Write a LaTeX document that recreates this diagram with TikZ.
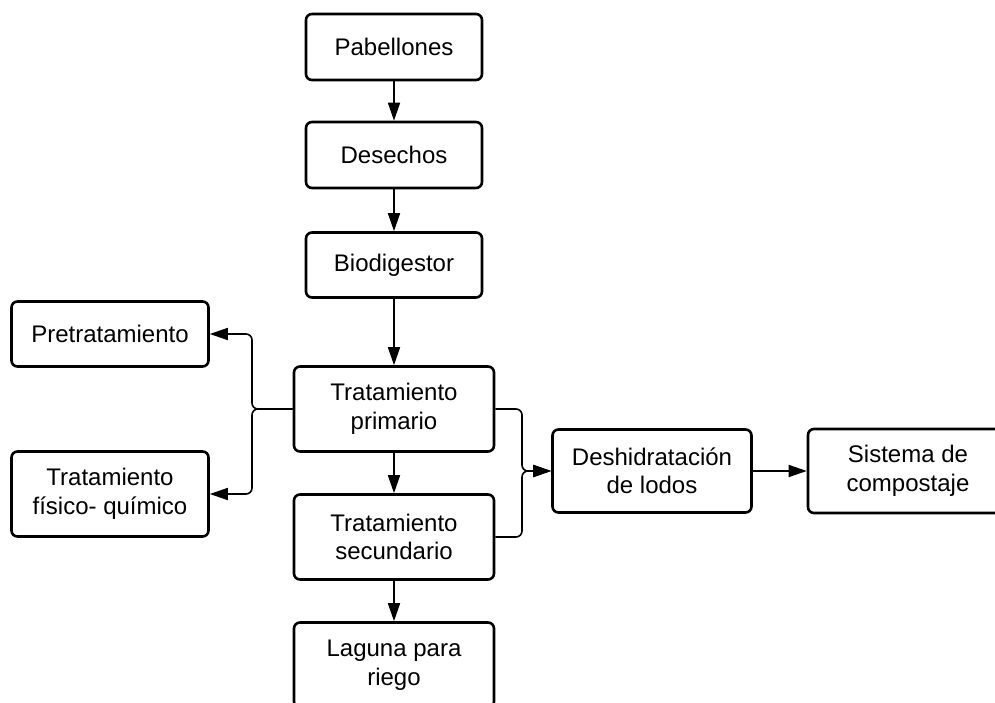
\documentclass[tikz,border=0pt]{standalone}
\usepackage{fontspec}
\setmainfont{Liberation Sans}
\usetikzlibrary{arrows.meta}
\begin{document}
\begin{tikzpicture}[x=1pt,y=-1pt,
  box/.style={draw, line width=2.6pt, rounded corners=6pt, align=center,
    inner sep=0pt, font=\fontsize{24}{28.5}\selectfont, fill=white},
  link/.style={line width=1.6pt, rounded corners=6pt,
    -{Triangle[length=18pt,width=12pt]}}]
\useasboundingbox (0,0) rectangle (995,703);

% main column
\node[box, minimum width=176, minimum height=66] (pab) at (394,47) {Pabellones};
\node[box, minimum width=176, minimum height=66] (des) at (394,155) {Desechos};
\node[box, minimum width=176, minimum height=65] (bio) at (394,265) {Biodigestor};
\node[box, minimum width=200, minimum height=85] (pri) at (394,409) {Tratamiento\\primario};
\node[box, minimum width=200, minimum height=85] (sec) at (394,537) {Tratamiento\\secundario};
\node[box, minimum width=200, minimum height=85] (lag) at (394,665) {Laguna para\\riego};

% left branch
\node[box, minimum width=197, minimum height=65] (pre) at (110,334) {Pretratamiento};
\node[box, minimum width=197, minimum height=85] (fis) at (110,494) {Tratamiento\\físico- químico};

% sludge line
\node[box, minimum width=199, minimum height=83] (desh) at (652,471) {Deshidratación\\de lodos};
\node[box, minimum width=200, minimum height=84] (sis) at (908,471) {Sistema de\\compostaje};

\coordinate (jl) at (252,409);
\coordinate (jr) at (522,471);

% connectors
\draw[link] (pab) -- (des);
\draw[link] (des) -- (bio);
\draw[link] (bio) -- (pri);
\draw[link] (pri) -- (sec);
\draw[link] (sec) -- (lag);
\draw[link] (desh) -- (sis);

\draw[link] (pri.west) -- (jl) |- (pre.east);
\draw[link] (pri.west) -- (jl) |- (fis.east);

\draw[link] (pri.east) -| (jr) -- (desh.west);
\draw[link] (sec.east) -| (jr) -- (desh.west);
\end{tikzpicture}
\end{document}
